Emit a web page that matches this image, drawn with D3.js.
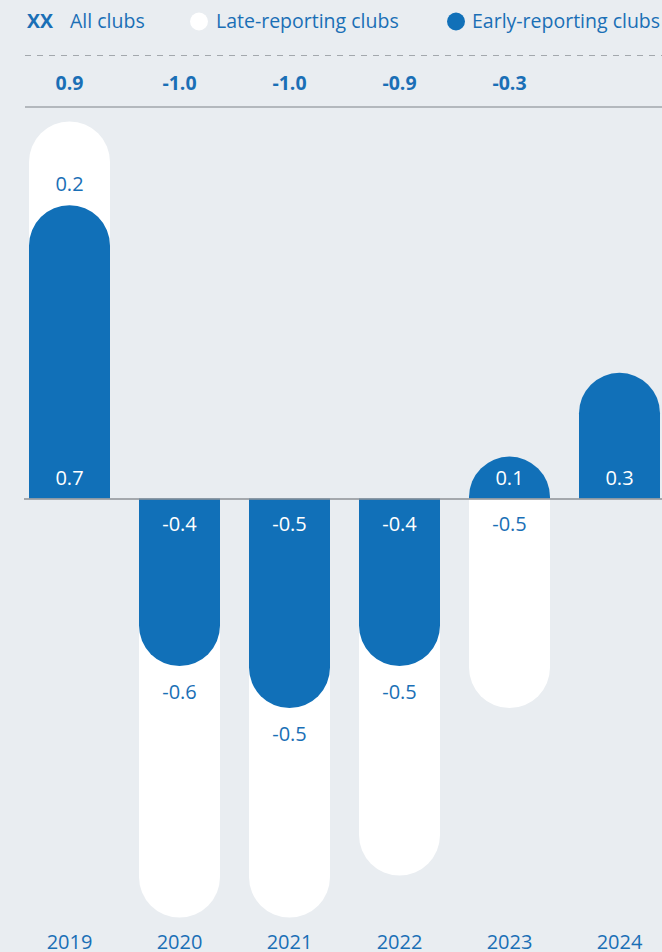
<!DOCTYPE html>
<html>
<head>
<meta charset="utf-8">
<script src="https://cdn.jsdelivr.net/npm/d3@7"></script>
<style>
  html, body { margin: 0; padding: 0; background: #e9edf1; }
  svg { display: block; font-family: "Open Sans", "Noto Sans", sans-serif; }
</style>
</head>
<body>
<svg id="chart" width="662" height="952"></svg>
<script>
// values
const years = ["2019", "2020", "2021", "2022", "2023", "2024"];
const early = [0.7, -0.4, -0.5, -0.4, 0.1, 0.3];
const late = [0.2, -0.6, -0.5, -0.5, -0.5, null];
const totals = [0.9, -1.0, -1.0, -0.9, -0.3, null];
const legendLabels = ["All clubs", "Late-reporting clubs", "Early-reporting clubs"];

const blue = "#1170b8",
    textBlue = "#1a6fb6",
    white = "#ffffff";

const width = 662, height = 952;
const svg = d3.select("#chart");

const x = d3.scaleBand()
    .domain(years)
    .range([14.5, 674.5])
    .paddingInner(0.2636)
    .paddingOuter(0.1318);

const y = d3.scaleLinear()
    .domain([0, 1])
    .range([498.5, 498.5 - 419]);

// bar with a square end at the baseline and a round far end
function pill(x0, w, v0, v1) {
    const r = w / 2,
        yb = y(v0),
        ye = y(v1);
    if (ye < yb) {
        const yc = Math.min(ye + r, yb);
        return "M" + x0 + "," + yb + "V" + yc +
            "A" + r + "," + r + " 0 0 1 " + (x0 + w) + "," + yc +
            "V" + yb + "Z";
    }
    const yc = Math.max(ye - r, yb);
    return "M" + x0 + "," + yb + "V" + yc +
        "A" + r + "," + r + " 0 0 0 " + (x0 + w) + "," + yc +
        "V" + yb + "Z";
}

const fmt = v => v.toFixed(1);

// legend
const legend = svg.append("g")
    .attr("font-size", 19.5)
    .attr("fill", textBlue);
legend.append("text")
    .attr("x", 27).attr("y", 28)
    .attr("font-weight", 700)
    .text("XX");
legend.append("text")
    .attr("x", 70).attr("y", 28)
    .text(legendLabels[0]);
legend.append("circle")
    .attr("cx", 199).attr("cy", 21.5).attr("r", 9)
    .attr("fill", white);
legend.append("text")
    .attr("x", 216).attr("y", 28)
    .text(legendLabels[1]);
legend.append("circle")
    .attr("cx", 456).attr("cy", 21.5).attr("r", 9)
    .attr("fill", blue);
legend.append("text")
    .attr("x", 472).attr("y", 28)
    .text(legendLabels[2]);

// rules around the totals row
svg.append("line")
    .attr("x1", 25).attr("x2", width)
    .attr("y1", 55.5).attr("y2", 55.5)
    .attr("stroke", "#a3a8ad")
    .attr("stroke-width", 1.2)
    .attr("stroke-dasharray", "6,6");
svg.append("line")
    .attr("x1", 25).attr("x2", width)
    .attr("y1", 107).attr("y2", 107)
    .attr("stroke", "#b3b8bd")
    .attr("stroke-width", 2);

const data = years.map((yr, i) => ({
    year: yr, early: early[i], late: late[i], total: totals[i]
}));

// totals row
svg.append("g").selectAll("text")
    .data(data.filter(d => d.total !== null))
    .enter().append("text")
    .attr("x", d => x(d.year) + x.bandwidth() / 2)
    .attr("y", 90)
    .attr("text-anchor", "middle")
    .attr("font-size", 19.5)
    .attr("font-weight", 700)
    .attr("fill", textBlue)
    .text(d => fmt(d.total));

// late-reporting (white) bars sit behind the early ones
const lateData = data.filter(d => d.late !== null);
function lateEnd(d) {
    return Math.sign(d.late) === Math.sign(d.early) ? d.early + d.late : d.late;
}

svg.append("g").selectAll("path")
    .data(lateData)
    .enter().append("path")
    .attr("d", d => pill(x(d.year), x.bandwidth(), 0, lateEnd(d)))
    .attr("fill", white);

svg.append("g").selectAll("path")
    .data(data)
    .enter().append("path")
    .attr("d", d => pill(x(d.year), x.bandwidth(), 0, d.early))
    .attr("fill", blue);

// zero line
svg.append("line")
    .attr("x1", 24).attr("x2", width)
    .attr("y1", y(0) + 0.5).attr("y2", y(0) + 0.5)
    .attr("stroke", "#8c9196")
    .attr("stroke-width", 1.5);

// value labels
const labels = svg.append("g")
    .attr("text-anchor", "middle")
    .attr("font-size", 20);

labels.selectAll("text.early")
    .data(data)
    .enter().append("text")
    .attr("class", "early")
    .attr("x", d => x(d.year) + x.bandwidth() / 2)
    .attr("y", d => d.early >= 0 ? y(0) - 14 : y(0) + 32.5)
    .attr("fill", white)
    .text(d => fmt(d.early));

labels.selectAll("text.late")
    .data(lateData)
    .enter().append("text")
    .attr("class", "late")
    .attr("x", d => x(d.year) + x.bandwidth() / 2)
    .attr("y", d => {
        const same = Math.sign(d.late) === Math.sign(d.early);
        const base = same ? d.early : 0;
        return d.late >= 0 ? y(base) - 14 : y(base) + 32.5;
    })
    .attr("fill", textBlue)
    .text(d => fmt(d.late));

// year labels (cut by the bottom edge, as in the original)
svg.append("g").selectAll("text")
    .data(years)
    .enter().append("text")
    .attr("x", d => x(d) + x.bandwidth() / 2)
    .attr("y", 949)
    .attr("text-anchor", "middle")
    .attr("font-size", 20)
    .attr("fill", textBlue)
    .text(d => d);
</script>
</body>
</html>
